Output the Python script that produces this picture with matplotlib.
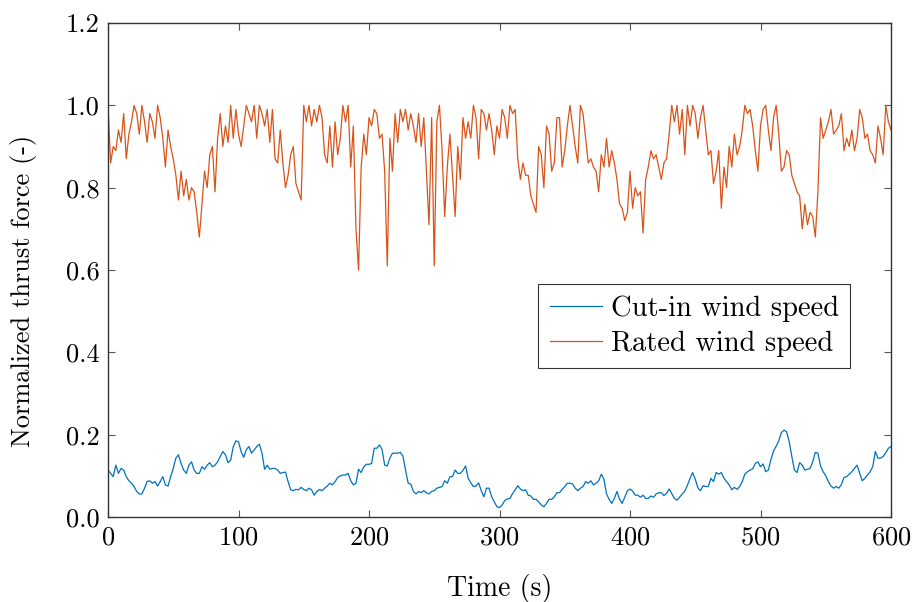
import numpy as np
import matplotlib
matplotlib.use("Agg")
import matplotlib.pyplot as plt

# time grid (s), 2 s spacing
time = np.arange(0, 601, 2)

cut_in = [
 0.114,0.106,0.098,0.126,0.106,0.118,0.114,0.098,0.088,0.082,0.074,0.062,0.056,0.056,0.070,0.086,0.088,0.082,0.086,0.075,
 0.086,0.098,0.078,0.075,0.098,0.118,0.143,0.151,0.130,0.114,0.106,0.126,0.134,0.114,0.106,0.106,0.122,0.116,0.126,0.132,
 0.122,0.126,0.134,0.147,0.159,0.151,0.132,0.138,0.171,0.185,
 0.183,0.159,0.145,0.164,0.171,0.155,0.163,0.171,0.177,0.155,0.116,0.126,0.116,0.118,0.118,0.114,0.106,0.108,0.109,0.086,
 0.066,0.064,0.067,0.066,0.072,0.067,0.064,0.070,0.066,0.053,0.062,0.067,0.064,0.070,0.075,0.082,0.078,0.086,0.096,0.100,
 0.102,0.102,0.106,0.088,0.078,0.082,0.116,0.108,0.122,0.128,
 0.128,0.130,0.167,0.167,0.175,0.164,0.126,0.124,0.143,0.155,0.155,0.155,0.157,0.148,0.114,0.082,0.080,0.062,0.056,0.062,
 0.059,0.064,0.059,0.056,0.062,0.064,0.070,0.072,0.074,0.088,0.082,0.098,0.098,0.114,0.106,0.106,0.113,0.124,0.094,0.083,
 0.074,0.075,0.083,0.064,0.049,0.070,0.070,0.049,0.037,0.025,
 0.023,0.029,0.040,0.044,0.045,0.057,0.066,0.076,0.068,0.064,0.066,0.053,0.051,0.043,0.043,0.037,0.029,0.025,0.033,0.043,
 0.043,0.049,0.059,0.059,0.067,0.074,0.082,0.082,0.080,0.070,0.064,0.070,0.074,0.086,0.082,0.088,0.078,0.082,0.088,0.104,
 0.092,0.056,0.043,0.033,0.045,0.062,0.043,0.033,0.048,0.064,
 0.068,0.063,0.053,0.053,0.048,0.053,0.045,0.045,0.051,0.048,0.056,0.059,0.059,0.052,0.057,0.068,0.057,0.045,0.041,0.048,
 0.056,0.063,0.077,0.094,0.108,0.092,0.071,0.064,0.076,0.074,0.074,0.094,0.086,0.108,0.104,0.108,0.094,0.086,0.078,0.066,
 0.072,0.067,0.074,0.086,0.104,0.110,0.114,0.117,0.130,0.134,
 0.122,0.129,0.110,0.114,0.140,0.160,0.172,0.185,0.205,0.211,0.207,0.183,0.147,0.114,0.108,0.132,0.126,0.114,0.116,0.118,
 0.134,0.157,0.155,0.124,0.110,0.100,0.086,0.075,0.070,0.074,0.070,0.079,0.096,0.098,0.104,0.110,0.118,0.126,0.106,0.088,
 0.094,0.102,0.110,0.122,0.159,0.143,0.143,0.147,0.156,0.167,0.171,
]

rated = [
 1.00,0.86,0.90,0.89,0.94,0.91,0.98,0.87,0.93,0.96,1.00,0.98,0.93,1.00,0.96,0.91,0.98,0.96,0.92,1.00,
 0.97,0.92,0.85,0.94,0.90,0.87,0.83,0.77,0.84,0.78,0.82,0.77,0.80,0.79,0.74,0.68,0.76,0.84,0.80,0.88,
 0.90,0.79,0.92,0.98,0.90,0.95,0.91,1.00,0.92,0.99,
 0.93,0.90,0.95,1.00,0.98,0.96,1.00,0.92,1.00,0.98,0.95,0.99,0.91,0.99,0.87,0.86,0.94,0.86,0.80,0.83,
 0.88,0.90,0.81,0.79,0.77,1.00,0.96,1.00,0.95,0.99,0.96,1.00,0.97,0.88,0.86,0.95,0.85,0.96,0.88,0.92,
 1.00,0.96,1.00,0.85,0.95,0.70,0.60,0.85,0.93,0.88,
 0.97,0.95,0.99,0.98,0.92,0.93,0.84,0.61,0.92,0.84,0.98,0.91,0.99,0.96,0.99,0.94,0.98,0.95,0.91,0.98,
 0.90,0.97,0.84,0.71,0.97,0.61,0.96,1.00,0.89,0.73,0.85,0.93,0.83,0.73,0.90,0.82,0.97,0.92,0.96,0.92,
 1.00,0.97,0.87,0.99,0.98,0.94,0.98,0.94,0.88,0.95,
 0.92,0.99,0.97,0.92,1.00,0.98,0.99,0.87,0.82,0.86,0.83,0.83,0.78,0.76,0.74,0.90,0.88,0.80,0.95,0.93,
 0.84,0.86,0.97,0.97,0.85,0.89,0.95,1.00,0.95,0.90,0.86,1.00,0.98,0.92,0.86,0.87,0.85,0.84,0.79,0.88,
 0.85,0.92,0.85,0.89,0.86,0.82,0.76,0.75,0.72,0.74,
 0.84,0.75,0.80,0.78,0.79,0.69,0.82,0.85,0.89,0.87,0.88,0.85,0.82,0.86,0.87,0.93,1.00,0.96,1.00,0.93,
 0.99,0.88,1.00,0.95,1.00,0.98,0.92,0.97,1.00,0.94,0.88,0.89,0.81,0.84,0.89,0.75,0.85,0.80,0.90,0.85,
 0.93,0.88,0.90,0.94,1.00,0.98,0.99,0.95,0.89,0.84,
 0.95,0.99,1.00,0.94,0.89,0.97,1.00,0.93,0.84,0.85,0.89,0.88,0.83,0.81,0.79,0.78,0.70,0.76,0.71,0.74,
 0.73,0.68,0.79,0.97,0.92,0.94,0.96,0.99,0.93,0.94,0.95,0.98,0.89,0.92,0.90,0.94,0.89,0.92,0.99,0.97,
 0.92,0.93,0.89,0.88,0.86,0.95,0.92,0.88,1.00,0.96,0.94,
]

labels = ["Cut-in wind speed", "Rated wind speed"]
colors = ["#0072BD", "#D95319"]

plt.rcParams["font.family"] = ["cmr10", "DejaVu Serif"]
plt.rcParams["mathtext.fontset"] = "cm"
plt.rcParams["axes.formatter.use_mathtext"] = True

fig = plt.figure(figsize=(9.15, 6.02), dpi=100)
ax = fig.add_axes([108/915, 1-517/602, 783/915, 494/602])

ax.plot(time, cut_in, color=colors[0], lw=0.9, label=labels[0])
ax.plot(time, rated, color=colors[1], lw=0.9, label=labels[1])

ax.set_xlim(0, 600)
ax.set_ylim(0, 1.2)
ax.set_xticks([0, 100, 200, 300, 400, 500, 600])
ax.set_yticks([0, 0.2, 0.4, 0.6, 0.8, 1.0, 1.2])
ax.set_yticklabels(["0.0", "0.2", "0.4", "0.6", "0.8", "1.0", "1.2"])
ax.tick_params(direction="in", length=5, width=0.8, color="#555555",
               top=True, right=True, labelsize=19, pad=6)
for s in ax.spines.values():
    s.set_linewidth(1.0)
    s.set_color("#333333")

ax.set_xlabel("Time (s)", fontsize=20)
ax.set_ylabel("Normalized thrust force (-)", fontsize=19)
ax.xaxis.set_label_coords(0.5, -0.115)
ax.yaxis.set_label_coords(-0.091, 0.457)

leg = ax.legend(loc="upper right", bbox_to_anchor=(0.948, 0.472), fontsize=20.5,
                frameon=True, fancybox=False, edgecolor="black", borderaxespad=0,
                handlelength=1.85, borderpad=0.4, labelspacing=0.3, handletextpad=0.3)
leg.get_frame().set_linewidth(0.8)

fig.savefig("out.png", dpi=100)
